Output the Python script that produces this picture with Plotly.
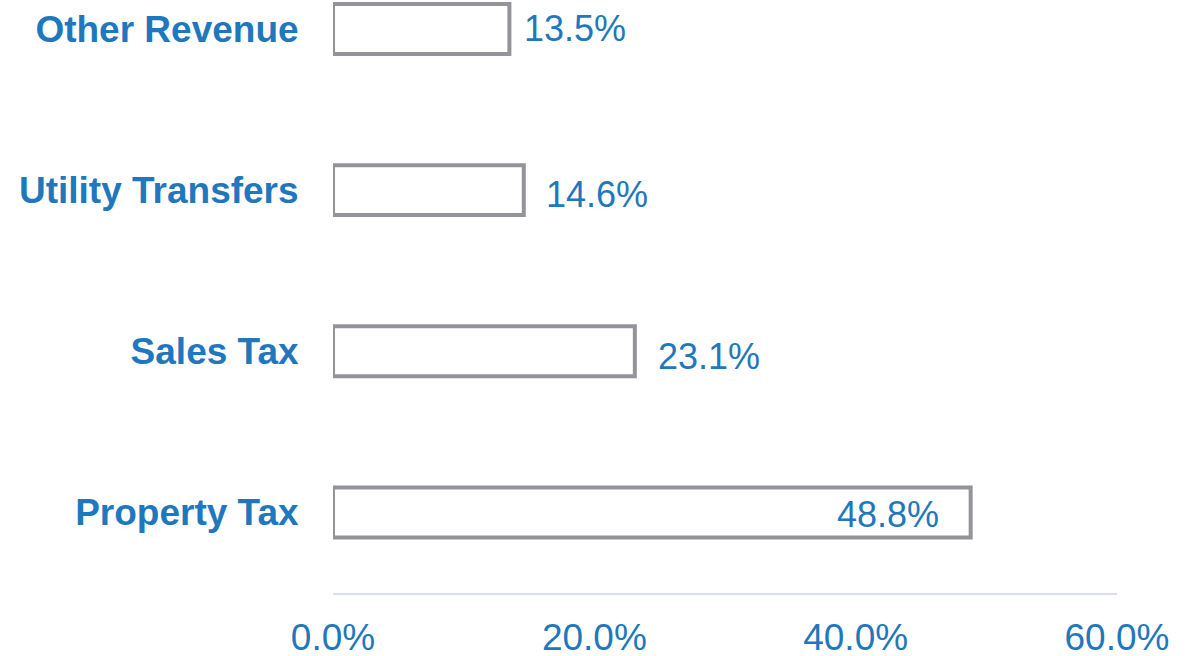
import plotly.graph_objects as go

categories = ["Property Tax", "Sales Tax", "Utility Transfers", "Other Revenue"]
values = [48.8, 23.1, 14.6, 13.5]
value_labels = ["48.8%", "23.1%", "14.6%", "13.5%"]
tick_vals = [0, 20, 40, 60]
tick_text = ["0.0%", "20.0%", "40.0%", "60.0%"]

BLUE = "#1f78bd"
GRAY = "#939399"

fig = go.Figure()
fig.add_trace(go.Bar(
    y=categories, x=values, orientation="h",
    width=0.31,
    marker=dict(color="white", line=dict(color=GRAY, width=4)),
    hoverinfo="skip",
))

# label placement offsets (style)
label_style = [
    dict(xanchor="right", xshift=-30, yshift=-2),
    dict(xanchor="left", xshift=21, yshift=-5),
    dict(xanchor="left", xshift=20, yshift=-4),
    dict(xanchor="left", xshift=13, yshift=1),
]
for cat, v, t, st in zip(categories, values, value_labels, label_style):
    fig.add_annotation(x=v, y=cat, text=t, showarrow=False,
                       font=dict(family="Liberation Sans, Arial", size=36, color=BLUE),
                       **st)

fig.update_layout(
    width=1199, height=656,
    margin=dict(l=333, r=82, t=0, b=63),
    plot_bgcolor="white", paper_bgcolor="white",
    showlegend=False,
    font=dict(family="Liberation Sans, Arial", color=BLUE),
)
fig.update_xaxes(
    range=[0, 60], tickvals=tick_vals, ticktext=tick_text,
    showgrid=False, zeroline=False, automargin=False,
    showline=True, linecolor="#dcdfea", linewidth=2,
    ticks="outside", ticklen=11, tickcolor="rgba(0,0,0,0)",
    tickfont=dict(size=37, color=BLUE),
)
fig.update_yaxes(
    categoryorder="array", categoryarray=categories,
    range=[-0.5, 3.18], automargin=False,
    showgrid=False, zeroline=False, showline=False,
    ticks="outside", ticklen=26, tickcolor="rgba(0,0,0,0)",
    tickfont=dict(size=37, color=BLUE, weight="bold"),
)

fig.write_html("out.html", config={"displayModeBar": False},
               post_script="document.body.style.margin='0';")
